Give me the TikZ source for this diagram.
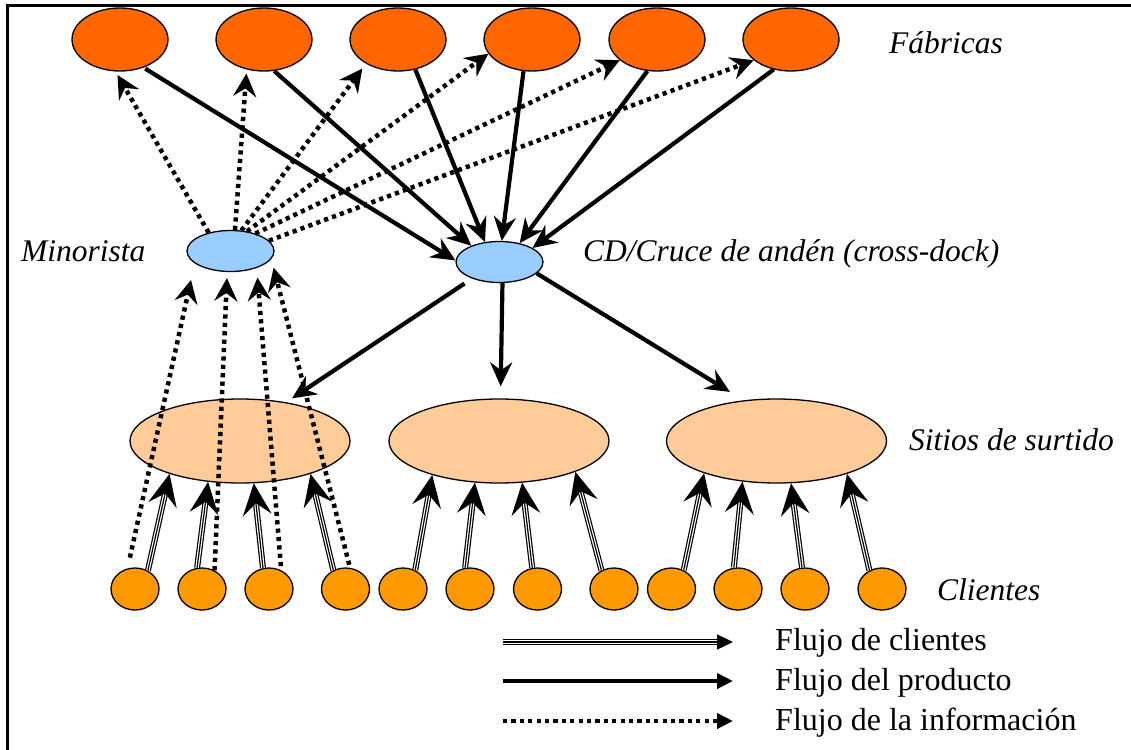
\documentclass[tikz,border=0pt]{standalone}
\usepackage{fontspec}
\setmainfont{Liberation Serif}
\usetikzlibrary{arrows.meta,shapes.geometric}
\definecolor{factoryc}{HTML}{FF6600}
\definecolor{hubc}{HTML}{99CCFF}
\definecolor{sitec}{HTML}{FFCC99}
\definecolor{clientc}{HTML}{FF9900}
\begin{document}
\begin{tikzpicture}[x=1pt,y=-1pt,
  blob/.style={ellipse, draw=black, line width=1.3pt, inner sep=0pt},
  factory/.style={blob, fill=factoryc, minimum width=96pt, minimum height=63pt},
  hub/.style={blob, fill=hubc, minimum width=87pt, minimum height=41pt},
  site/.style={blob, fill=sitec, minimum width=220pt, minimum height=84pt},
  client/.style={blob, fill=clientc, minimum width=48pt, minimum height=42pt},
  lab/.style={font=\fontsize{31.5}{36}\selectfont\itshape, inner sep=0pt, anchor=base west},
  legtext/.style={font=\fontsize{32}{36}\selectfont, inner sep=0pt, anchor=base west},
  prod/.style={line width=4.2pt, -{Stealth[length=24pt,width=22pt,inset=8pt]}},
  info/.style={line width=4.5pt, dash pattern=on 4.2pt off 4.2pt, -{Stealth[length=23pt,width=23pt,inset=8pt]}},
  cust/.style={line width=1.2pt, -{Stealth[length=32pt,width=29pt,inset=12pt]},
    preaction={draw, line width=6pt, -, shorten >=19pt},
    preaction={draw=white, line width=3.6pt, -, shorten >=19pt}},
  prodleg/.style={line width=4.2pt, -{Triangle[length=16pt,width=15pt]}},
  infoleg/.style={line width=4.5pt, dash pattern=on 4.2pt off 4.2pt, -{Triangle[length=16pt,width=15pt]}},
  custleg/.style={line width=1.2pt, -{Triangle[length=16pt,width=15pt]},
    preaction={draw, line width=6pt, -, shorten >=8pt},
    preaction={draw=white, line width=3.6pt, -, shorten >=8pt}},
]
\useasboundingbox (0,0) rectangle (1131,749);
\fill[white] (0,0) rectangle (1131,749);

% frame
\coordinate (frameBL) at (7.5,760);
\coordinate (frameTL) at (7.5,5.5);
\coordinate (frameTR) at (1140,5.5);
\draw[line width=2.5pt] (frameBL) -- (frameTL) -- (frameTR);

% factories
\node[factory] (F1) at (120,39.5) {};
\node[factory] (F2) at (264,39.5) {};
\node[factory] (F3) at (398,39.5) {};
\node[factory] (F4) at (532,39.5) {};
\node[factory] (F5) at (657,39.5) {};
\node[factory] (F6) at (791,39.5) {};

% retailer and cross-dock
\node[hub] (M) at (230.5,251) {};
\node[hub] (CD) at (499.5,262) {};

% assortment sites
\node[site] (S1) at (240,441) {};
\node[site] (S2) at (499,441) {};
\node[site] (S3) at (776.5,441) {};

% customers
\foreach \i/\x in {1/135,2/202,3/269,4/345.5,5/403,6/470,7/537.5,8/614,9/671.5,10/738,11/805,12/882}
  \node[client] (C\i) at (\x,589) {};

% labels
\node[lab] (tFab) at (889,54) {Fábricas};
\node[lab] (tMin) at (21,261) {Minorista};
\node[lab] (tCD) at (583,261) {CD/Cruce de andén (cross-dock)};
\node[lab] (tSit) at (909,450) {Sitios de surtido};
\node[lab] (tCli) at (937,600) {Clientes};

% product flow: factories to cross-dock
\draw[prod, shorten <=2pt] (F1.-50) -- (CD.178);
\draw[prod] (F2.-72) -- (CD.150);
\draw[prod] (F3.-60) -- (CD.126);
\draw[prod] (F4.-105) -- (CD.84);
\draw[prod] (F5.-107) -- (CD.43);
\draw[prod] (F6.-120) -- (CD.23);

% product flow: cross-dock to sites
\draw[prod, shorten <=9pt, shorten >=7pt] (CD.-149) -- (S1.40);
\draw[prod, shorten >=12pt] (CD.-82) -- (S2.88);
\draw[prod, shorten >=16pt] (CD.-17) -- (S3.129);

% information flow: retailer to factories
\draw[info, shorten >=4pt] (M.140) -- (F1.-98);
\draw[info, shorten >=4pt] (M.78) -- (F2.-120);
\draw[info, shorten >=6pt] (M.62) -- (F3.-143);
\draw[info] (M.50) -- (F4.-162);
\draw[info] (M.35) -- (F5.-151);
\draw[info] (M.15) -- (F6.-151);

% information flow: customers to retailer
\draw[info, shorten <=11pt, shorten >=17pt] (C1.110) -- (M.-161);
\draw[info, shorten >=6pt] (C2.56) -- (M.-99);
\draw[info, shorten <=4pt, shorten >=9.5pt] (C3.57) -- (M.-33);
\draw[info, shorten <=3pt, shorten >=9pt] (C4.78) -- (M.-11);

% customer flow: customers to sites
\draw[cust] (C1.55) -- (S1.-155);
\draw[cust] (C2.103) -- (S1.-128);
\draw[cust] (C3.106) -- (S1.-72);
\draw[cust] (C4.123) -- (S1.-25);
\draw[cust] (C5.57) -- (S2.-153);
\draw[cust] (C6.103) -- (S2.-120);
\draw[cust] (C7.104) -- (S2.-61);
\draw[cust] (C8.124) -- (S2.-22);
\draw[cust] (C9.57) -- (S3.-156);
\draw[cust] (C10.101) -- (S3.-130);
\draw[cust] (C11.98) -- (S3.-71);
\draw[cust] (C12.124) -- (S3.-25);

% legend
\coordinate (lgA1) at (503,642); \coordinate (lgA2) at (733,642);
\coordinate (lgB1) at (503,681); \coordinate (lgB2) at (733,681);
\coordinate (lgC1) at (503,721); \coordinate (lgC2) at (733,721);
\draw[custleg] (lgA1) -- (lgA2);
\draw[prodleg] (lgB1) -- (lgB2);
\draw[infoleg] (lgC1) -- (lgC2);
\node[legtext] (tLA) at (775,650) {Flujo de clientes};
\node[legtext] (tLB) at (775,690) {Flujo del producto};
\node[legtext] (tLC) at (775,730) {Flujo de la información};
\end{tikzpicture}
\end{document}
